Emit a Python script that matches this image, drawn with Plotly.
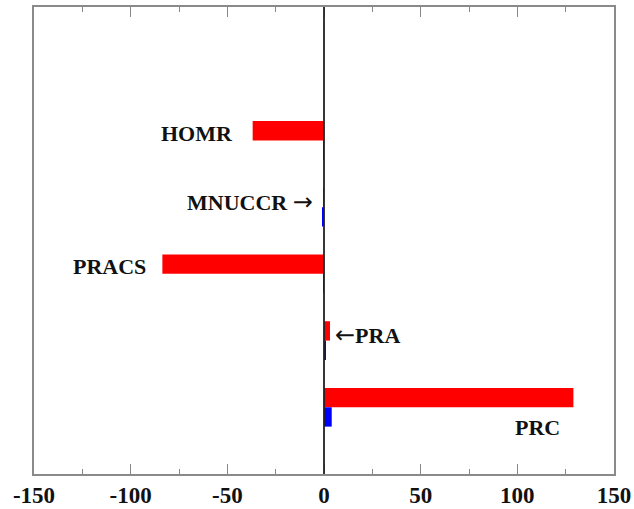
import plotly.graph_objects as go

# Process rates, one group per process (top to bottom in the panel)
processes = ["HOMR", "MNUCCR", "PRACS", "PRA", "PRC"]
red_values = [-36.9, -0.3, -83.6, 3.1, 129.0]
blue_values = [-0.3, -0.9, -0.3, 0.6, 4.0]

# Row position of each process on the vertical axis (bottom row = 1)
rows = [5, 4, 3, 2, 1]

x_ticks = [-150, -100, -50, 0, 50, 100, 150]
x_tick_labels = ["-150", "-100", "-50", "0", "50", "100", "150"]

ARROW = '<span style="font-family:DejaVu Sans;font-size:24px">{}</span>'

# Label text and where it sits relative to its row
label_text = [
    "<b>HOMR</b>",
    "<b>MNUCCR </b>" + ARROW.format("\u2192"),
    "<b>PRACS</b>",
    ARROW.format("\u2190") + "<b>PRA</b>",
    "<b>PRC</b>",
]
label_x = [-46.0, -4.5, -91.0, 4.7, 97.8]
label_dy = [0.1, 0.08, 0.11, 0.08, -0.31]
label_anchor = ["right", "right", "right", "left", "left"]

BAR_W = 0.29
SERIF = "Liberation Serif, Times New Roman, serif"

fig = go.Figure()
fig.add_trace(go.Bar(
    y=rows, x=red_values, orientation="h",
    width=BAR_W, offset=0,
    marker=dict(color="#ff0000", line=dict(width=0)),
    showlegend=False,
))
fig.add_trace(go.Bar(
    y=rows, x=blue_values, orientation="h",
    width=BAR_W, offset=-BAR_W,
    marker=dict(color="#0000ff", line=dict(width=0)),
    showlegend=False,
))

for txt, lx, dy, anc, r in zip(label_text, label_x, label_dy, label_anchor, rows):
    fig.add_annotation(
        x=lx, y=r + dy, xref="x", yref="y",
        text=txt, showarrow=False, xanchor=anc, yanchor="middle",
        font=dict(family=SERIF, size=22, color="#111111"),
    )

# Zero reference line across the full height
fig.add_shape(type="line", x0=0, x1=0, y0=0, y1=1, xref="x", yref="paper",
              line=dict(color="#222222", width=1.8), layer="above")

fig.update_layout(
    width=634, height=509,
    margin=dict(l=34, r=20, t=7, b=35),
    paper_bgcolor="white", plot_bgcolor="white",
    barmode="overlay",
    xaxis=dict(
        range=[-150, 150], tickvals=x_ticks,
        ticktext=["<b>" + t + "</b>" for t in x_tick_labels],
        ticks="inside", ticklen=10, tickwidth=1.2, tickcolor="#888888",
        minor=dict(dtick=25, tick0=0, ticks="inside", ticklen=5,
                   tickwidth=1.2, tickcolor="#888888"),
        showline=True, linecolor="#8a8a8a", linewidth=1.5, mirror="ticks",
        showgrid=False, zeroline=False, automargin=False,
        tickfont=dict(family=SERIF, size=23, color="#111111"),
        ticklabelstandoff=0,
    ),
    yaxis=dict(
        range=[0, 7], showticklabels=False, ticks="",
        showline=True, linecolor="#8a8a8a", linewidth=1.5, mirror=True,
        showgrid=False, zeroline=False, automargin=False,
    ),
)

fig.write_html("out.html")
